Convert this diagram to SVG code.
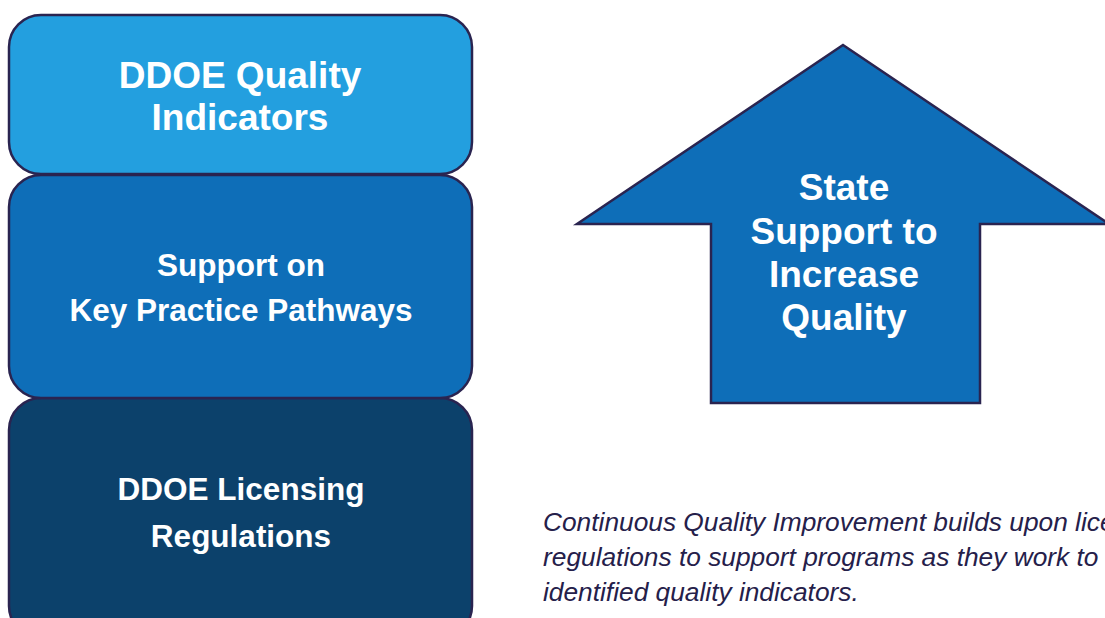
<svg xmlns="http://www.w3.org/2000/svg" width="1105" height="618" viewBox="0 0 1105 618">
<style>
.box{stroke:#2a2450;stroke-width:2.5}
.t{font-family:"Liberation Sans",Arial,sans-serif;font-weight:bold;fill:#fff;text-anchor:middle}
.cap{font-family:"Liberation Sans",Arial,sans-serif;font-style:italic;font-size:26.3px;fill:#25204A}
</style>
<rect width="1105" height="618" fill="#fff"/>
<g id="licensing">
<rect class="box" x="9" y="398" width="463" height="240" rx="32" fill="#0C416B"/>
<text class="t" font-size="31.5" x="241" y="500">DDOE Licensing</text>
<text class="t" font-size="31.5" x="241" y="547">Regulations</text>
</g>
<g id="support">
<rect class="box" x="9" y="175" width="463" height="223" rx="32" fill="#0E6EB8"/>
<text class="t" font-size="31.5" x="241" y="276">Support on</text>
<text class="t" font-size="31.5" x="241" y="321">Key Practice Pathways</text>
</g>
<g id="quality">
<rect class="box" x="9" y="15" width="463" height="159" rx="32" fill="#239FDF"/>
<text class="t" font-size="37" x="240" y="88">DDOE Quality</text>
<text class="t" font-size="37" x="240" y="130">Indicators</text>
</g>
<g id="arrow">
<polygon points="843,45 1109,224 980,224 980,403 711,403 711,224 577,224" fill="#0E6EB8" stroke="#2a2450" stroke-width="2.5" stroke-linejoin="miter"/>
<text class="t" font-size="37" x="844" y="200">State</text>
<text class="t" font-size="37" x="844" y="244">Support to</text>
<text class="t" font-size="37" x="844" y="287">Increase</text>
<text class="t" font-size="37" x="844" y="330">Quality</text>
</g>
<g id="connectors"/>
<g id="caption">
<text class="cap" x="543" y="531">Continuous Quality Improvement builds upon licensing</text>
<text class="cap" x="543" y="566">regulations to support programs as they work to</text>
<text class="cap" x="543" y="601">identified quality indicators.</text>
</g>
</svg>
